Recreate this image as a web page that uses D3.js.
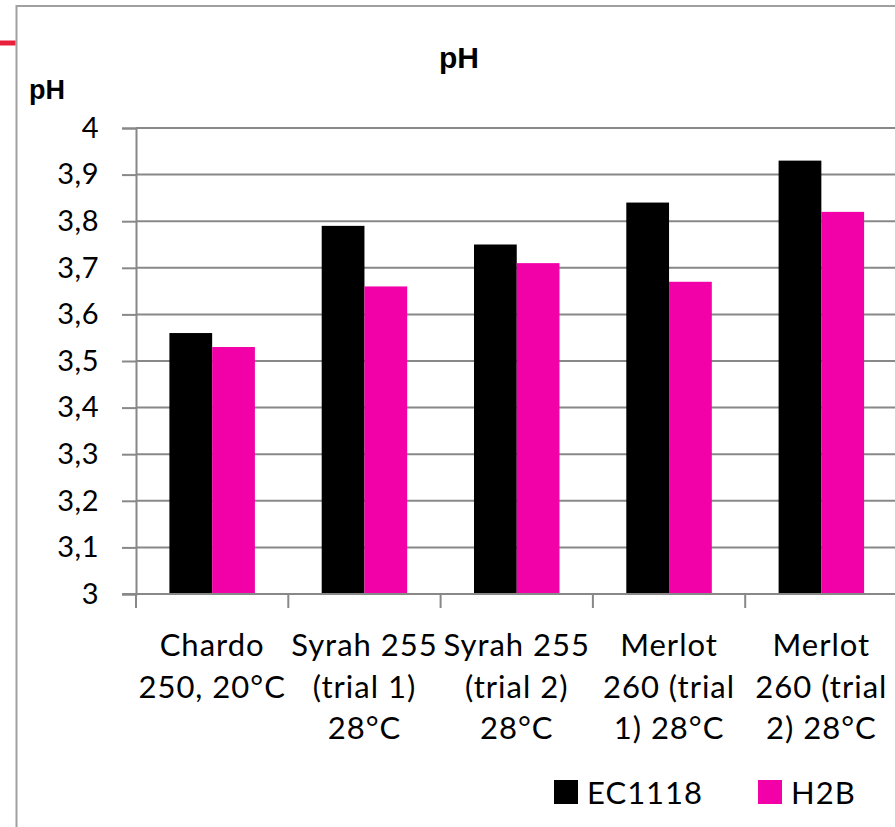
<!DOCTYPE html>
<html>
<head>
<meta charset="utf-8">
<script src="https://cdn.jsdelivr.net/npm/d3@7"></script>
<style>
  html, body { margin: 0; padding: 0; background: #fff; }
  svg { display: block; }
</style>
</head>
<body>
<svg id="chart" width="895" height="827"></svg>
<script>
// Wine trials and their measured pH per yeast strain
const categories = [
  ["Chardo", "250, 20°C"],
  ["Syrah 255", "(trial 1)", "28°C"],
  ["Syrah 255", "(trial 2)", "28°C"],
  ["Merlot", "260 (trial", "1) 28°C"],
  ["Merlot", "260 (trial", "2) 28°C"]
];
const seriesNames = ["EC1118", "H2B"];
const ec1118 = [3.56, 3.79, 3.75, 3.84, 3.93];
const h2b = [3.53, 3.66, 3.71, 3.67, 3.82];
const yTicks = [3, 3.1, 3.2, 3.3, 3.4, 3.5, 3.6, 3.7, 3.8, 3.9, 4];
const colors = ["#000000", "#f200a8"];

const svg = d3.select("#chart");
const bodyFont = "Lato, 'Open Sans', sans-serif";
const boldFont = "'Liberation Sans', Arial, sans-serif";

// Frame around the chart area, plus the accent stroke on the left
svg.append("rect")
  .attr("x", 16.5).attr("y", 6).attr("width", 900).attr("height", 900)
  .attr("fill", "none").attr("stroke", "#a0a0a0").attr("stroke-width", 2);
svg.append("line")
  .attr("x1", 0).attr("x2", 15.5).attr("y1", 43).attr("y2", 43)
  .attr("stroke", "#e8203c").attr("stroke-width", 5);

const plotLeft = 136, bandW = 152.3, plotTop = 128, plotBottom = 594;
const x = d3.scaleBand()
  .domain(d3.range(categories.length))
  .range([plotLeft, plotLeft + bandW * categories.length])
  .padding(0);
const xs = d3.scaleBand()
  .domain(seriesNames)
  .range([33.4, bandW - 33.4])
  .padding(0);
const y = d3.scaleLinear().domain([3, 4]).range([plotBottom, plotTop]);

// Horizontal gridlines
svg.append("g").selectAll("line")
  .data(yTicks.slice(1))
  .join("line")
  .attr("x1", plotLeft).attr("x2", 895)
  .attr("y1", d => y(d)).attr("y2", d => y(d))
  .attr("stroke", "#888").attr("stroke-width", 2);

// Bars
const rows = categories.map((c, i) => ({ i, values: [ec1118[i], h2b[i]] }));
svg.append("g").selectAll("g")
  .data(rows)
  .join("g")
  .attr("transform", d => `translate(${x(d.i)},0)`)
  .selectAll("rect")
  .data(d => d.values.map((v, k) => ({ v, k })))
  .join("rect")
  .attr("x", d => xs(seriesNames[d.k]))
  .attr("width", xs.bandwidth())
  .attr("y", d => y(d.v))
  .attr("height", d => y(3) - y(d.v))
  .attr("fill", d => colors[d.k]);

// Y axis
const yAxis = d3.axisLeft(y)
  .tickValues(yTicks)
  .tickSize(14)
  .tickPadding(23)
  .tickFormat(d => d3.format(".1~f")(d).replace(".", ","));
const gy = svg.append("g").attr("transform", `translate(${plotLeft},0)`).call(yAxis);
gy.select(".domain").attr("stroke", "#888").attr("stroke-width", 2);
gy.selectAll(".tick line").attr("stroke", "#888").attr("stroke-width", 2);
gy.selectAll(".tick text")
  .attr("font-family", bodyFont).attr("font-size", 29)
  .attr("letter-spacing", 0.5).attr("fill", "#000");

// X axis with ticks at band boundaries
const gx = svg.append("g").attr("transform", `translate(0,${plotBottom})`);
gx.append("line")
  .attr("x1", plotLeft - 14).attr("x2", 895)
  .attr("stroke", "#888").attr("stroke-width", 2);
gx.selectAll(".xt")
  .data(d3.range(categories.length + 1))
  .join("line")
  .attr("class", "xt")
  .attr("x1", d => plotLeft + d * x.step()).attr("x2", d => plotLeft + d * x.step())
  .attr("y1", 0).attr("y2", 14)
  .attr("stroke", "#888").attr("stroke-width", 2);

// Category labels (wrapped lines)
svg.append("g").selectAll("text")
  .data(categories.map((lines, i) => ({ lines, i })))
  .join("text")
  .attr("text-anchor", "middle")
  .attr("font-family", bodyFont).attr("font-size", 31)
  .attr("letter-spacing", 1).attr("fill", "#000")
  .each(function(d) {
    d3.select(this).selectAll("tspan")
      .data(d.lines)
      .join("tspan")
      .attr("x", x(d.i) + x.bandwidth() / 2)
      .attr("y", (t, j) => 656 + j * 41.5)
      .text(t => t);
  });

// Titles
svg.append("text")
  .attr("x", 459).attr("y", 68).attr("text-anchor", "middle")
  .attr("font-family", boldFont).attr("font-weight", "bold").attr("font-size", 30)
  .text("pH");
svg.append("text")
  .attr("x", 29).attr("y", 99)
  .attr("font-family", boldFont).attr("font-weight", "bold").attr("font-size", 27)
  .text("pH");

// Legend
const legend = svg.append("g").selectAll("g")
  .data(seriesNames)
  .join("g")
  .attr("transform", (d, k) => `translate(${[554, 758][k]},780)`);
legend.append("rect")
  .attr("width", 24).attr("height", 24)
  .attr("fill", (d, k) => colors[k]);
legend.append("text")
  .attr("x", 33).attr("y", 24)
  .attr("font-family", bodyFont).attr("font-size", 31)
  .attr("letter-spacing", 1).attr("fill", "#000")
  .text(d => d);
</script>
</body>
</html>
